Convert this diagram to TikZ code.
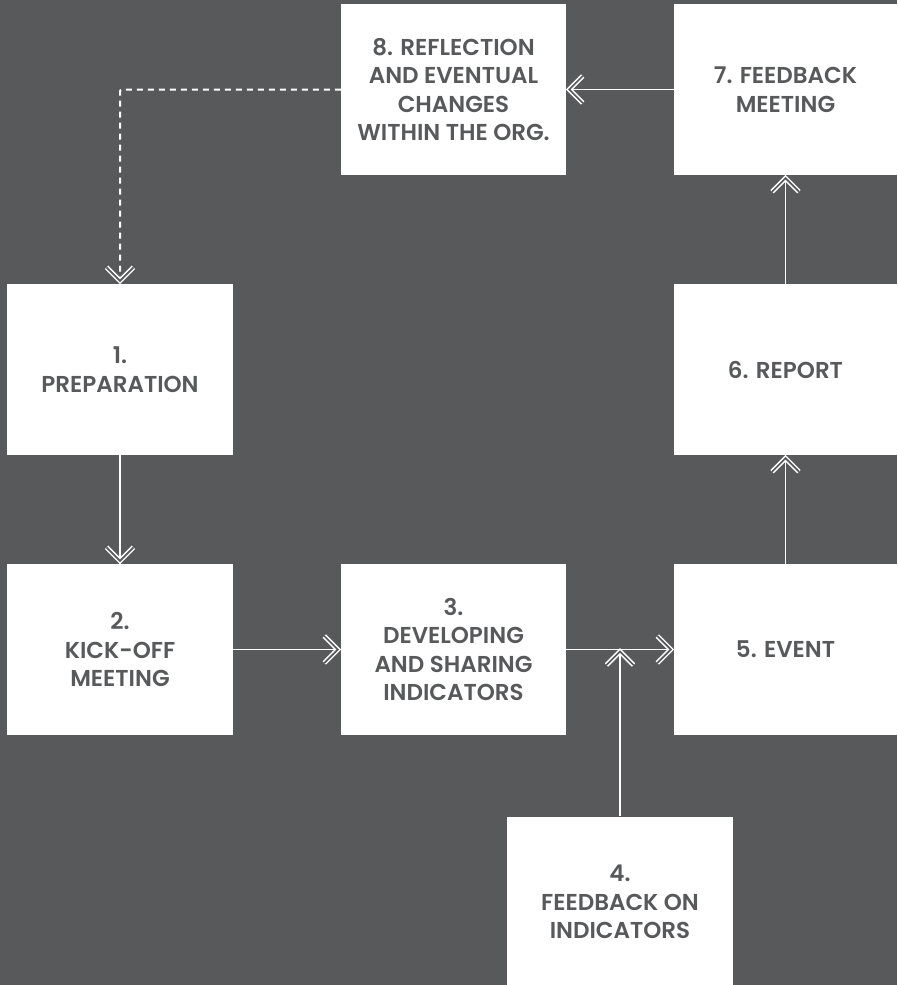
\documentclass[tikz,border=0pt]{standalone}
\usepackage{fontspec}
\setmainfont{Poppins}[BoldFont={Poppins SemiBold}]
\usetikzlibrary{calc}
\definecolor{bg}{HTML}{58595B}
\begin{document}
\begin{tikzpicture}[x=1pt,y=-1pt,
  box/.style={fill=white, draw=none, minimum width=225pt, minimum height=171pt,
    align=center, text=bg, inner sep=0pt,
    font=\fontsize{23}{28.5}\selectfont\bfseries},
  conn/.style={draw=white, line width=1.9pt},
  dashconn/.style={draw=white, line width=2pt, dash pattern=on 6pt off 5pt, rounded corners=2pt},
  chev/.pic={\draw[draw=white, line width=1.5pt, double=bg, double distance=1.7pt, miter limit=10]
     (-13.5,-13.5) -- (0,0) -- (-13.5,13.5);}
]
\fill[bg] (0,0) rectangle (897,985);
\useasboundingbox (0,0) rectangle (897,985);

\node[box] (n8) at (453.5,89.5) {8. REFLECTION\\AND EVENTUAL\\CHANGES\\WITHIN THE ORG.};
\node[box, minimum width=223pt] (n7) at (785.5,89.5) {7. FEEDBACK\\MEETING};
\node[box, minimum width=226pt] (n1) at (120,369.5) {1.\\PREPARATION};
\node[box, minimum width=223pt] (n6) at (785.5,369.5) {6. REPORT};
\node[box, minimum width=226pt] (n2) at (120,649.5) {2.\\KICK-OFF\\MEETING};
\node[box] (n3) at (453.5,649.5) {3.\\DEVELOPING\\AND SHARING\\INDICATORS};
\node[box, minimum width=223pt] (n5) at (785.5,649.5) {5. EVENT};
\node[box, minimum width=226pt] (n4) at (620,902) {4.\\FEEDBACK ON\\INDICATORS};

% connectors
\coordinate (c81) at (n1.north |- n8.west);
\draw[dashconn] (n8.west) -- (c81) -- ($(n1.north)+(0,-3)$);
\pic[rotate=-90] at ($(n1.north)+(0,-3)$) {chev};

\draw[conn] (n7.west) -- (n8.east);
\pic[rotate=180] at ($(n8.east)+(3,0)$) {chev};

\draw[conn] (n6.north) -- (n7.south);
\pic[rotate=90] at ($(n7.south)+(0,3)$) {chev};

\draw[conn] (n5.north) -- (n6.south);
\pic[rotate=90] at ($(n6.south)+(0,3)$) {chev};

\draw[conn] (n1.south) -- (n2.north);
\pic[rotate=-90] at ($(n2.north)+(0,-3)$) {chev};

\draw[conn] (n2.east) -- (n3.west);
\pic at ($(n3.west)+(-3,0)$) {chev};

\draw[conn] (n3.east) -- (n5.west);
\pic at ($(n5.west)+(-3,0)$) {chev};

\coordinate (c4) at (n4.north |- n3.east);
\draw[conn] (n4.north) -- (c4);
\pic[rotate=90] at ($(c4)+(0,2)$) {chev};
\end{tikzpicture}
\end{document}
